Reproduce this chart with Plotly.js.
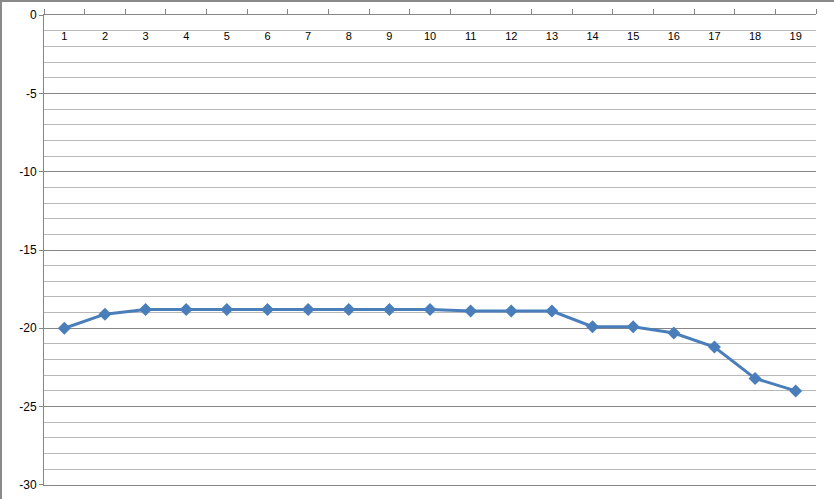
<!DOCTYPE html>
<html>
<head>
<meta charset="utf-8">
<script src="https://cdn.plot.ly/plotly-3.0.1.min.js"></script>
<style>
  html, body { margin: 0; padding: 0; background: #fff; }
  #wrap { position: relative; width: 834px; height: 499px; }
  #chart { position: absolute; left: 0; top: 0; width: 834px; height: 499px; }
  #frame { position: absolute; left: 0; top: 0; width: 834px; height: 499px;
           border-top: 2px solid #8a8a8a; border-left: 2px solid #8a8a8a;
           box-sizing: border-box; pointer-events: none; }
</style>
</head>
<body>
<div id="wrap">
  <div id="chart"></div>
  <div id="frame"></div>
</div>
<script>
const categories = ['1','2','3','4','5','6','7','8','9','10','11','12','13','14','15','16','17','18','19'];
const values = [-20, -19.1, -18.8, -18.8, -18.8, -18.8, -18.8, -18.8, -18.8, -18.8, -18.9, -18.9, -18.9, -19.9, -19.9, -20.3, -21.2, -23.2, -24];
const yTickValues = [0, -5, -10, -15, -20, -25, -30];

const trace = {
  type: 'scatter',
  mode: 'lines+markers',
  x: categories,
  y: values,
  xaxis: 'x',
  yaxis: 'y',
  line: { color: '#4a7ebb', width: 3 },
  marker: { symbol: 'diamond', size: 10, color: '#4a7ebb' },
  hoverinfo: 'x+y'
};

// carrier for the category labels that sit just under the top axis line
const labelTrace = {
  type: 'scatter',
  mode: 'markers',
  x: categories,
  y: values,
  xaxis: 'x2',
  yaxis: 'y',
  marker: { opacity: 0 },
  hoverinfo: 'skip',
  showlegend: false
};

const layout = {
  width: 834,
  height: 499,
  margin: { l: 44, r: 18, t: 15, b: 14 },
  paper_bgcolor: '#ffffff',
  plot_bgcolor: '#ffffff',
  showlegend: false,
  font: { family: 'Liberation Sans, Arial, sans-serif', color: '#000' },
  xaxis: {
    type: 'category',
    side: 'top',
    range: [-0.5, categories.length - 0.5],
    tickson: 'boundaries',
    ticks: 'outside',
    ticklen: 5,
    tickwidth: 1,
    tickcolor: '#868686',
    showline: true,
    mirror: true,
    linecolor: '#868686',
    linewidth: 1,
    showgrid: false,
    zeroline: false,
    showticklabels: false,
    fixedrange: true
  },
  xaxis2: {
    type: 'category',
    overlaying: 'x',
    side: 'top',
    anchor: 'free',
    position: 0.9426,
    range: [-0.5, categories.length - 0.5],
    ticks: '',
    showline: false,
    showgrid: false,
    zeroline: false,
    tickfont: { size: 11, color: '#000' },
    fixedrange: true
  },
  yaxis: {
    range: [-30.01, 0.01],
    tickmode: 'array',
    tickvals: yTickValues,
    ticktext: yTickValues.map(String),
    ticks: 'outside',
    ticklen: 4,
    tickcolor: '#868686',
    showline: true,
    linecolor: '#868686',
    linewidth: 1,
    showgrid: true,
    gridcolor: '#868686',
    gridwidth: 1,
    zeroline: false,
    tickfont: { size: 12, color: '#000' },
    minor: { dtick: 1, tick0: 0, showgrid: true, gridcolor: '#b8b8b8', gridwidth: 1, ticks: '' },
    fixedrange: true
  }
};

Plotly.newPlot('chart', [trace, labelTrace], layout, { displayModeBar: false, staticPlot: true });
</script>
</body>
</html>
